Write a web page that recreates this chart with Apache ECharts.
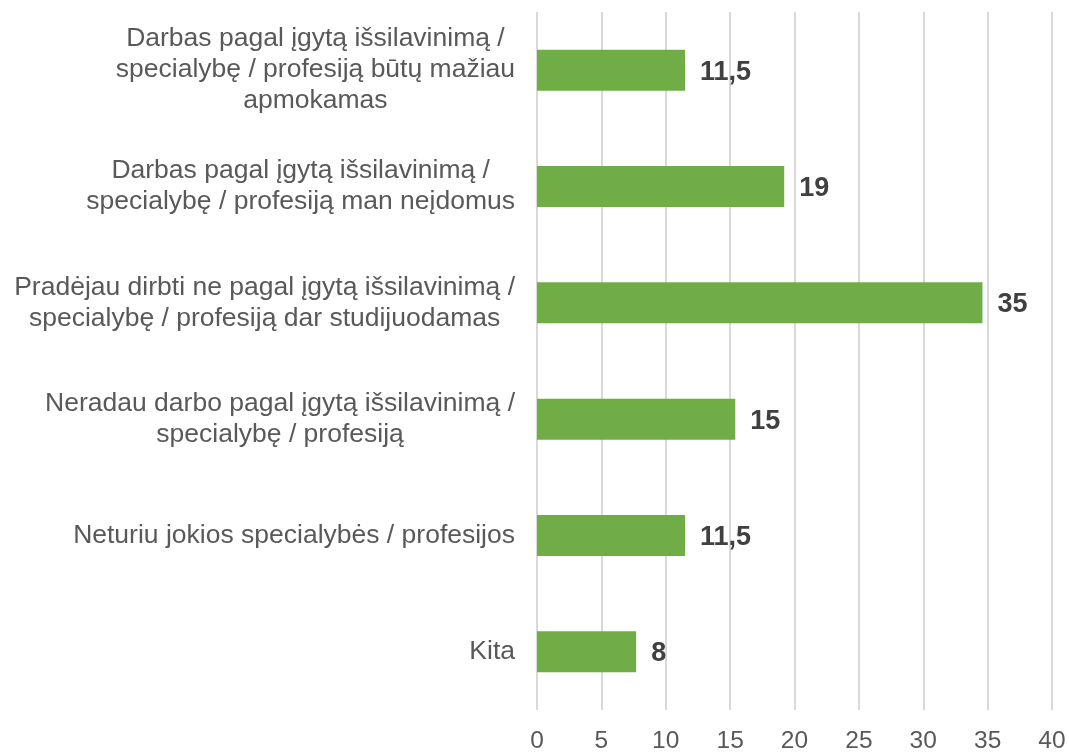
<!DOCTYPE html>
<html>
<head>
<meta charset="utf-8">
<script src="https://cdn.jsdelivr.net/npm/echarts@6/dist/echarts.min.js"></script>
<style>
  html, body { margin: 0; padding: 0; background: #fff; }
  #chart { width: 1069px; height: 754px; }
</style>
</head>
<body>
<div id="chart"></div>
<script>
// categories bottom -> top (category axis starts at the bottom)
var categories = [
  "Kita",
  "Neturiu jokios specialybės / profesijos",
  "Neradau darbo pagal įgytą išsilavinimą /\nspecialybę / profesiją",
  "Pradėjau dirbti ne pagal įgytą išsilavinimą /\nspecialybę / profesiją dar studijuodamas",
  "Darbas pagal įgytą išsilavinimą /\nspecialybę / profesiją man neįdomus",
  "Darbas pagal įgytą išsilavinimą /\nspecialybę / profesiją būtų mažiau\napmokamas"
];
var values = [7.7, 11.5, 15.4, 34.6, 19.2, 11.5];
var valueLabels = ["8", "11,5", "15", "35", "19", "11,5"];

var myChart = echarts.init(document.getElementById("chart"));

var option = {
  animation: false,
  textStyle: { fontFamily: "Liberation Sans, Arial, sans-serif" },
  grid: {
    left: 537,
    right: 17,
    top: 12,
    bottom: 44,
    containLabel: false
  },
  xAxis: {
    type: "value",
    min: 0,
    max: 40,
    interval: 5,
    axisLine: { show: false },
    axisTick: { show: false },
    axisLabel: {
      color: "#595959",
      fontSize: 24.5,
      margin: 19
    },
    splitLine: {
      show: true,
      lineStyle: { color: "#d9d9d9", width: 2 }
    }
  },
  yAxis: {
    type: "category",
    data: categories,
    axisLine: { show: false },
    axisTick: { show: false },
    axisLabel: {
      margin: 22,
      color: "#595959",
      fontSize: 26.5,
      lineHeight: 31,
      formatter: function (val) {
        return val.split("\n").map(function (s) {
          return "{c|" + s + "}";
        }).join("\n");
      },
      rich: {
        c: {
          align: "center",
          color: "#595959",
          fontSize: 26.5,
          lineHeight: 31,
          fontFamily: "Liberation Sans, Arial, sans-serif"
        }
      }
    }
  },
  series: [
    {
      type: "bar",
      data: values,
      barWidth: 41,
      itemStyle: { color: "#70ad47" },
      label: {
        show: true,
        position: "right",
        distance: 15,
        offset: [0, 2],
        color: "#404040",
        fontWeight: "bold",
        fontSize: 27,
        formatter: function (p) {
          return valueLabels[p.dataIndex];
        }
      }
    }
  ]
};

myChart.setOption(option);
</script>
</body>
</html>
